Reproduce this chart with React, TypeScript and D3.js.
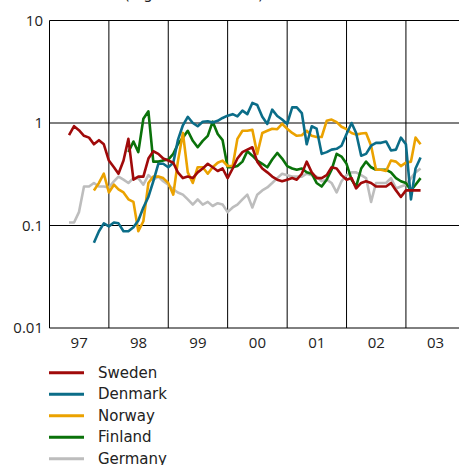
import React, { useEffect, useRef } from 'react';
import * as d3 from 'd3';

// monthly values, each series starts at its own month
const countries = ['Sweden', 'Denmark', 'Norway', 'Finland', 'Germany'];
const colors = ['#a00a0a', '#0b6d88', '#eba200', '#0a720a', '#bdbdbd'];
const starts = ['1997-05', '1997-10', '1997-10', '1998-05', '1997-05'];

const sweden = [
  0.76, 0.93, 0.85, 0.75, 0.72, 0.62, 0.68, 0.62,
  0.43, 0.37, 0.32, 0.43, 0.70, 0.28, 0.30, 0.30, 0.45, 0.53, 0.50, 0.45,
  0.43, 0.41, 0.33, 0.29, 0.30, 0.29, 0.33, 0.36, 0.40, 0.37, 0.34, 0.36,
  0.29, 0.36, 0.45, 0.52, 0.55, 0.58, 0.42, 0.36, 0.33, 0.30, 0.28, 0.27,
  0.28, 0.29, 0.28, 0.32, 0.42, 0.33, 0.29, 0.29, 0.31, 0.37, 0.36, 0.31,
  0.28, 0.29, 0.23, 0.26, 0.27, 0.26, 0.24, 0.24, 0.24, 0.26, 0.22, 0.19,
  0.22, 0.22, 0.22, 0.22
];
const denmark = [
  0.068, 0.088, 0.105,
  0.098, 0.107, 0.105, 0.088, 0.088, 0.096, 0.112, 0.15, 0.19, 0.27, 0.40, 0.40,
  0.37, 0.41, 0.68, 0.95, 1.15, 1.0, 0.93, 1.03, 1.04, 1.01, 1.05, 1.12,
  1.18, 1.22, 1.16, 1.32, 1.22, 1.57, 1.50, 1.15, 0.98, 1.35, 1.17, 1.08,
  0.98, 1.42, 1.42, 1.25, 0.62, 0.93, 0.88, 0.50, 0.52, 0.55, 0.56, 0.60,
  0.78, 1.0, 0.80, 0.48, 0.50, 0.60, 0.64, 0.64, 0.66, 0.54, 0.55, 0.72,
  0.62, 0.18, 0.36, 0.46
];
const norway = [
  0.22, 0.26, 0.32,
  0.21, 0.25, 0.225, 0.21, 0.18, 0.17, 0.088, 0.11, 0.26, 0.30, 0.30, 0.29,
  0.26, 0.20, 0.42, 0.80, 0.33, 0.26, 0.37, 0.37, 0.32, 0.37, 0.41, 0.43,
  0.38, 0.38, 0.70, 0.84, 0.84, 0.86, 0.50, 0.80, 0.84, 0.88, 0.87, 0.98,
  0.88, 0.80, 0.75, 0.76, 0.84, 0.75, 0.73, 0.73, 1.05, 1.08, 1.02, 0.92,
  0.87, 0.80, 0.77, 0.79, 0.80, 0.60, 0.35, 0.35, 0.34, 0.43, 0.42, 0.38,
  0.41, 0.42, 0.72, 0.62
];
const finland = [
  0.52, 0.66, 0.52, 1.10, 1.30, 0.42, 0.42, 0.43,
  0.44, 0.50, 0.62, 0.72, 0.84, 0.67, 0.58, 0.67, 0.75, 1.03, 0.78, 0.68,
  0.37, 0.37, 0.38, 0.42, 0.53, 0.48, 0.43, 0.40, 0.37, 0.44, 0.51, 0.45,
  0.38, 0.36, 0.35, 0.36, 0.33, 0.32, 0.26, 0.24, 0.28, 0.35, 0.50, 0.47,
  0.40, 0.28, 0.24, 0.36, 0.42, 0.37, 0.35, 0.35, 0.35, 0.33, 0.29, 0.27,
  0.26, 0.22, 0.25, 0.29
];
const germany = [
  0.107, 0.107, 0.135, 0.24, 0.24, 0.26, 0.24, 0.24,
  0.235, 0.27, 0.30, 0.28, 0.26, 0.29, 0.29, 0.25, 0.31, 0.28, 0.30, 0.27,
  0.25, 0.225, 0.21, 0.20, 0.18, 0.16, 0.18, 0.16, 0.17, 0.155, 0.165, 0.16,
  0.135, 0.15, 0.16, 0.18, 0.20, 0.15, 0.20, 0.22, 0.235, 0.26, 0.29, 0.32,
  0.31, 0.30, 0.30, 0.30, 0.32, 0.31, 0.30, 0.27, 0.28, 0.26, 0.21, 0.27,
  0.31, 0.33, 0.33, 0.31, 0.29, 0.17, 0.26, 0.26, 0.26, 0.29, 0.23, 0.24,
  0.25, 0.29, 0.33, 0.36
];
const seriesValues = [sweden, denmark, norway, finland, germany];
const yTicks = [0.01, 0.1, 1, 10];
const yearStarts = ['1997', '1998', '1999', '2000', '2001', '2002', '2003'];

const W = 459;
const H = 465;

export default function App() {
  const ref = useRef<SVGSVGElement>(null);

  useEffect(() => {
    const svg = d3.select(ref.current);
    svg.selectAll('*').remove();

    const parseMonth = d3.timeParse('%Y-%m');
    const parseYear = d3.timeParse('%Y');

    const x = d3.scaleTime()
      .domain([new Date(1997, 0, 1), new Date(2004, 0, 1)])
      .range([49.5, 465.3]);
    const y = d3.scaleLog()
      .domain([0.01, 10])
      .range([328, 20.5]);

    // cut-off heading at the top
    svg.append('text')
      .attr('x', 124)
      .attr('y', -1.5)
      .attr('font-family', 'DejaVu Sans')
      .attr('font-size', 15)
      .attr('fill', '#222')
      .text('(logarithmic scale)');

    const grid = svg.append('g');
    grid.selectAll('line.h').data(yTicks)
      .enter()
      .append('line')
      .attr('class', 'h')
      .attr('x1', x.range()[0])
      .attr('x2', x.range()[1])
      .attr('y1', (d) => y(d))
      .attr('y2', (d) => y(d))
      .attr('stroke', '#000')
      .attr('stroke-width', 1);

    const years = yearStarts.map((s) => parseYear(s) as Date);
    grid.selectAll('line.v').data(years)
      .enter()
      .append('line')
      .attr('class', 'v')
      .attr('x1', (d) => x(d))
      .attr('x2', (d) => x(d))
      .attr('y1', y(10))
      .attr('y2', y(0.01))
      .attr('stroke', '#000')
      .attr('stroke-width', 1);

    // y labels
    svg.append('g').selectAll('text').data(yTicks)
      .enter()
      .append('text')
      .attr('x', 43)
      .attr('y', (d) => y(d))
      .attr('dy', '0.35em')
      .attr('text-anchor', 'end')
      .attr('font-family', 'Open Sans')
      .attr('font-size', 15)
      .attr('fill', '#222')
      .text((d) => String(d));

    // x labels, centred in each year
    svg.append('g').selectAll('text').data(years)
      .enter()
      .append('text')
      .attr('x', (d) => (x(d) + x(d3.timeYear.offset(d, 1))) / 2)
      .attr('y', 348)
      .attr('text-anchor', 'middle')
      .attr('font-family', 'Open Sans')
      .attr('font-size', 15)
      .attr('fill', '#222')
      .text((d) => d3.timeFormat('%y')(d));

    const line = d3.line<[Date, number]>()
      .x((d) => x(d[0]))
      .y((d) => y(d[1]));

    const plot = svg.append('g');
    // draw back to front: Germany first, Sweden last
    const order = [4, 3, 2, 1, 0];
    order.forEach((i) => {
      const start = parseMonth(starts[i]) as Date;
      const pts: [Date, number][] = seriesValues[i].map((v, k) => [d3.timeMonth.offset(start, k), v]);
      plot.append('path')
        .attr('d', line(pts))
        .attr('fill', 'none')
        .attr('stroke', colors[i])
        .attr('stroke-width', 2.6)
        .attr('stroke-linejoin', 'round');
    });

    // legend
    const legend = svg.append('g');
    const item = legend.selectAll('g').data(countries)
      .enter()
      .append('g')
      .attr('transform', (d, i) => `translate(0 ${372.7 + i * 21.5})`);
    item.append('line')
      .attr('x1', 49)
      .attr('x2', 84)
      .attr('stroke', (d, i) => colors[i])
      .attr('stroke-width', 3);
    item.append('text')
      .attr('x', 98)
      .attr('dy', '0.35em')
      .attr('font-family', 'DejaVu Sans')
      .attr('font-size', 15)
      .attr('fill', '#222')
      .text((d) => d);
  }, []);

  return (
    <svg
      ref={ref}
      width={W}
      height={H}
      style={{ position: 'absolute', left: 0, top: 0, display: 'block' }}
    />
  );
}
